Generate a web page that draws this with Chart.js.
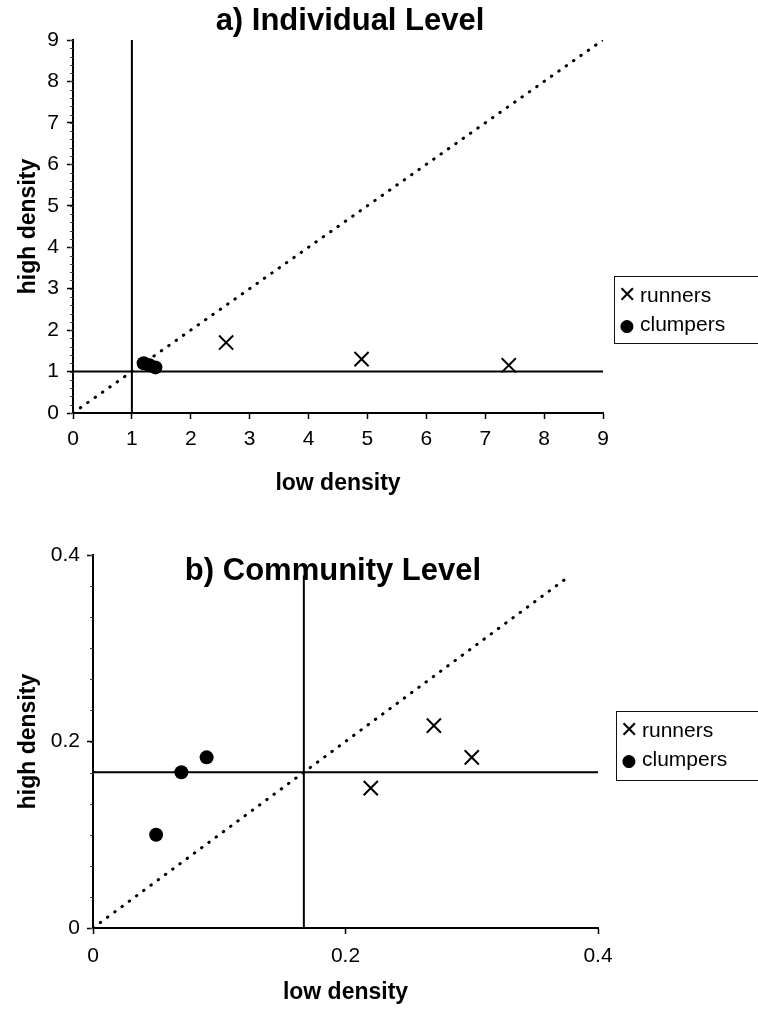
<!DOCTYPE html>
<html>
<head>
<meta charset="utf-8">
<script src="https://cdn.jsdelivr.net/npm/chart.js@4.4.0/dist/chart.umd.min.js"></script>
<style>
    body { margin: 0; background: #fff; width: 758px; height: 1011px; overflow: hidden; position: relative;
           font-family: "Liberation Sans", Arial, sans-serif; color: #000; }
    canvas { position: absolute; left: 0; }
    .title { position: absolute; font-weight: bold; font-size: 31px; white-space: nowrap;
             transform: translate(-50%, -50%); }
    .legend { position: absolute; border: 1px solid #111; width: 170px; font-size: 21px; line-height: 29px;
              padding: 3px 0 3px 2px; box-sizing: border-box; }
    .legend .sym { display: inline-block; width: 20px; text-align: center; margin-right: 3px; }
    .legend .cross { font-family: "DejaVu Sans"; font-size: 22px; font-weight: 200; }
    .legend .dot { font-family: "DejaVu Sans"; font-size: 17px; }
</style>
</head>
<body>
<canvas id="chart-a" width="758" height="500" style="top:0"></canvas>
<canvas id="chart-b" width="758" height="511" style="top:500px"></canvas>
<div class="title" id="title-a" style="left:350px; top:20px"></div>
<div class="title" id="title-b" style="left:333px; top:570px"></div>
<div class="legend" id="legend-a" style="left:614px; top:276px; height:68px"></div>
<div class="legend" id="legend-b" style="left:616px; top:711px; height:70px"></div>
<script>
// Заглавия и имена на сериите
const chartTitles = ['a) Individual Level', 'b) Community Level'];
const seriesNames = ['runners', 'clumpers'];
const xTitle = 'low density';
const yTitle = 'high density';

// a) Individual Level
const indivRunnersX = [2.6, 4.9, 7.4];
const indivRunnersY = [1.7, 1.3, 1.15];
const indivClumpersX = [1.2, 1.3, 1.4];
const indivClumpersY = [1.2, 1.15, 1.1];
const indivTicks = [0, 1, 2, 3, 4, 5, 6, 7, 8, 9];
const indivTickLabels = ['0', '1', '2', '3', '4', '5', '6', '7', '8', '9'];
const indivMax = 9;
const indivThreshold = 1;

// b) Community Level
const commRunnersX = [0.22, 0.27, 0.30];
const commRunnersY = [0.15, 0.217, 0.183];
const commClumpersX = [0.05, 0.07, 0.09];
const commClumpersY = [0.10, 0.167, 0.183];
const commTicks = [0, 0.2, 0.4];
const commTickLabels = ['0', '0.2', '0.4'];
const commMax = 0.4;
const commThreshold = 0.167;
const commVertTop = 0.378;
const commDiagEnd = 0.375;

const FONT = '"Liberation Sans", Arial, sans-serif';

function toPoints(xs, ys) {
    return xs.map((x, i) => ({ x: x, y: ys[i] }));
}

// Малки деления по оста Y
const minorTicks = {
    id: 'minorTicks',
    afterDraw(chart, args, opts) {
        const s = chart.scales.y;
        const ctx = chart.ctx;
        ctx.save();
        ctx.strokeStyle = '#444';
        ctx.lineWidth = 1;
        for (let v = s.min; v <= s.max + 1e-9; v += opts.step) {
            const p = Math.round(s.getPixelForValue(v)) + 0.5;
            ctx.beginPath();
            ctx.moveTo(s.right - 3, p);
            ctx.lineTo(s.right, p);
            ctx.stroke();
        }
        ctx.restore();
    }
};

function axis(max, ticks, labels, size, titlePad, tickPad) {
    return {
        type: 'linear',
        min: 0,
        max: max,
        afterBuildTicks: s => { s.ticks = ticks.map(v => ({ value: v })); },
        afterFit: s => { if (s.isHorizontal()) s.height = size; else s.width = size; },
        ticks: {
            color: '#000',
            font: { family: FONT, size: 21 },
            padding: tickPad,
            autoSkip: false,
            maxRotation: 0,
            callback: (v, i) => labels[i]
        },
        grid: { drawOnChartArea: false, drawTicks: true, tickLength: 6, tickColor: '#000', tickWidth: 1.5 },
        border: { display: true, color: '#000', width: 2 },
        title: {
            display: true,
            text: '',
            color: '#000',
            font: { family: FONT, size: 23, weight: 'bold' },
            padding: titlePad
        }
    };
}

function buildChart(id, cfg) {
    const x = axis(cfg.max, cfg.ticks, cfg.labels, cfg.xHeight, { top: 0, bottom: cfg.xTitlePad }, cfg.xTickPad);
    x.title.text = xTitle;
    const y = axis(cfg.max, cfg.ticks, cfg.labels, cfg.yWidth, { top: cfg.yTitlePad, bottom: 0 }, cfg.yTickPad);
    y.title.text = yTitle;

    return new Chart(document.getElementById(id), {
        type: 'scatter',
        data: {
            datasets: [
                {
                    label: seriesNames[0],
                    data: toPoints(cfg.runnersX, cfg.runnersY),
                    pointStyle: 'crossRot',
                    pointRadius: 10,
                    borderColor: '#000',
                    backgroundColor: '#000',
                    pointBorderWidth: 2
                },
                {
                    label: seriesNames[1],
                    data: toPoints(cfg.clumpersX, cfg.clumpersY),
                    pointStyle: 'circle',
                    pointRadius: 7,
                    borderColor: '#000',
                    backgroundColor: '#000',
                    pointBorderWidth: 0
                },
                ...cfg.lines.map(l => ({
                    label: '',
                    data: l.data,
                    showLine: true,
                    pointRadius: 0,
                    borderColor: '#000',
                    borderWidth: l.dotted ? 3 : 2,
                    borderDash: l.dotted ? [0.5, 8.5] : [],
                    borderCapStyle: l.dotted ? 'round' : 'butt'
                }))
            ]
        },
        options: {
            responsive: false,
            animation: false,
            layout: { padding: cfg.padding },
            scales: { x: x, y: y },
            plugins: {
                legend: { display: false },
                tooltip: { enabled: false },
                minorTicks: { step: cfg.minorStep }
            }
        },
        plugins: [minorTicks]
    });
}

// Графика a)
buildChart('chart-a', {
    max: indivMax, ticks: indivTicks, labels: indivTickLabels,
    runnersX: indivRunnersX, runnersY: indivRunnersY,
    clumpersX: indivClumpersX, clumpersY: indivClumpersY,
    lines: [
        { data: [{ x: indivThreshold, y: 0 }, { x: indivThreshold, y: indivMax }] },
        { data: [{ x: 0, y: indivThreshold }, { x: indivMax, y: indivThreshold }] },
        { data: [{ x: 0, y: 0 }, { x: indivMax, y: indivMax }], dotted: true }
    ],
    padding: { top: 40, right: 155, bottom: 0, left: 0 },
    yWidth: 73, xHeight: 87,
    xTickPad: 8, yTickPad: 8, xTitlePad: 3, yTitlePad: 15,
    minorStep: 0.2
});

// Графика b)
buildChart('chart-b', {
    max: commMax, ticks: commTicks, labels: commTickLabels,
    runnersX: commRunnersX, runnersY: commRunnersY,
    clumpersX: commClumpersX, clumpersY: commClumpersY,
    lines: [
        { data: [{ x: commThreshold, y: 0 }, { x: commThreshold, y: commVertTop }] },
        { data: [{ x: 0, y: commThreshold }, { x: commMax, y: commThreshold }] },
        { data: [{ x: 0, y: 0 }, { x: commDiagEnd, y: commDiagEnd }], dotted: true }
    ],
    padding: { top: 55, right: 160, bottom: 0, left: 0 },
    yWidth: 93, xHeight: 83,
    xTickPad: 10, yTickPad: 7, xTitlePad: 5, yTitlePad: 15,
    minorStep: 0.2 / 6
});

// Заглавия и легенди
document.getElementById('title-a').textContent = chartTitles[0];
document.getElementById('title-b').textContent = chartTitles[1];

function fillLegend(id) {
    const el = document.getElementById(id);
    const syms = ['<span class="sym cross">\u2715</span>', '<span class="sym dot">\u25CF</span>'];
    el.innerHTML = seriesNames.map((n, i) => '<div>' + syms[i] + n + '</div>').join('');
}
fillLegend('legend-a');
fillLegend('legend-b');
</script>
</body>
</html>
